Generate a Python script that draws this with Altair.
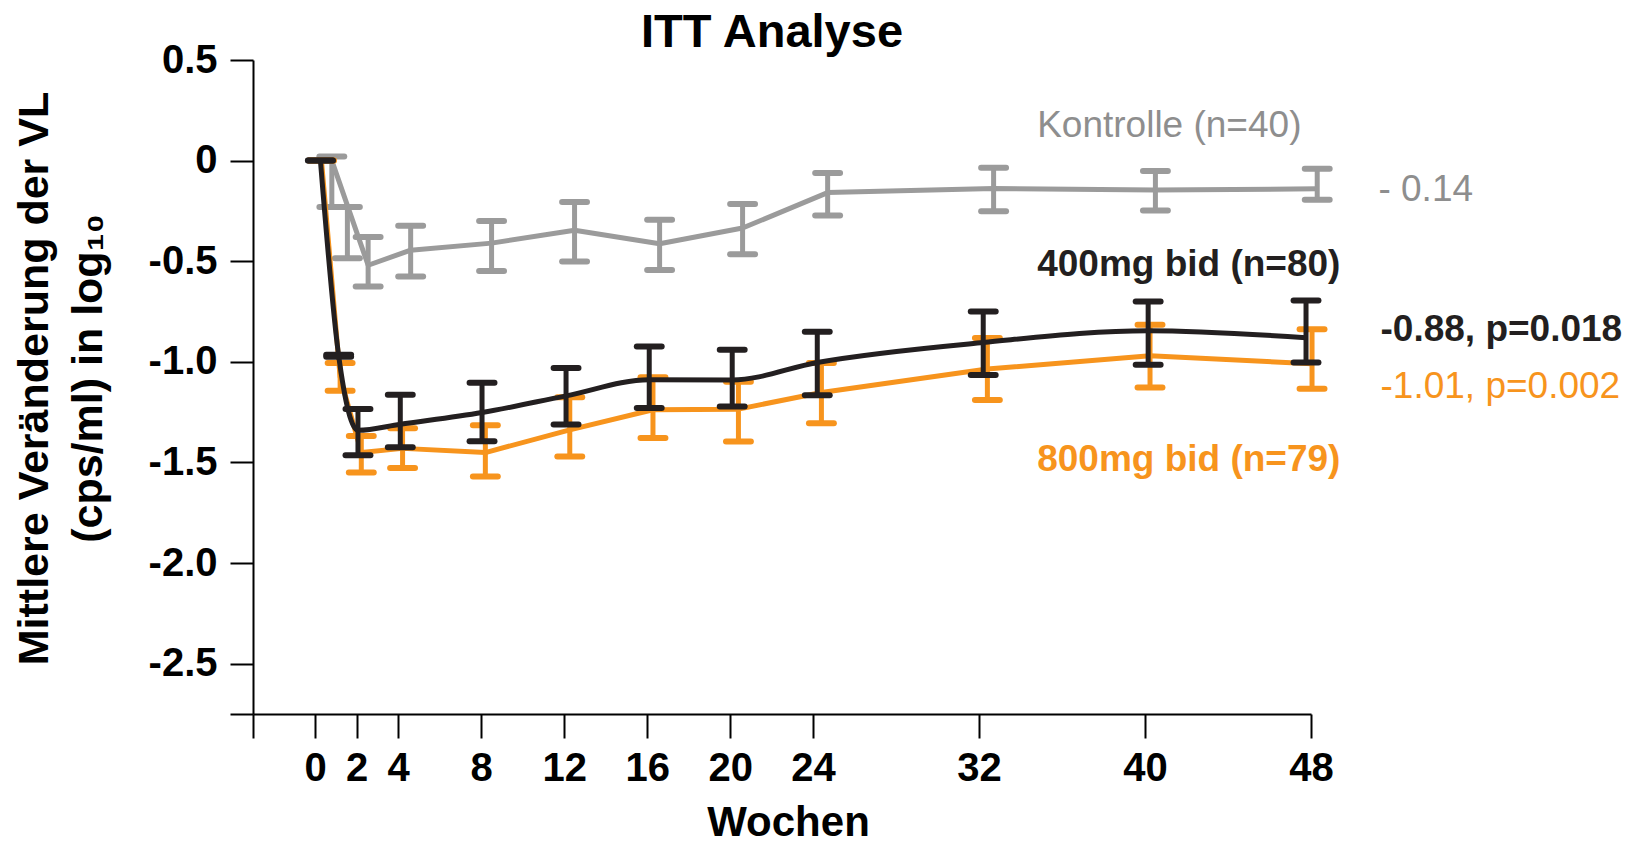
import altair as alt
import pandas as pd

FONT = "Liberation Sans, Arial, Helvetica, sans-serif"

GRAY = "#9b9b9b"
BLACK = "#231f20"
ORANGE = "#f7941d"

chart_title = ["ITT Analyse"]

# ---------------- Kontrolle (n=40) ----------------
ctrl_line_week = [0.8, 2.55, 4.6, 8.5, 12.5, 16.6, 20.6, 24.7, 32.7, 40.5, 48.3]
ctrl_line_val = [0.0, -0.52, -0.445, -0.41, -0.346, -0.413, -0.335, -0.159, -0.139, -0.146, -0.14]
ctrl_bar_week = [0.8, 1.55, 2.55, 4.6, 8.5, 12.5, 16.6, 20.6, 24.7, 32.7, 40.5, 48.3]
ctrl_bar_hi = [0.02, -0.23, -0.38, -0.324, -0.30, -0.206, -0.294, -0.216, -0.061, -0.035, -0.051, -0.041]
ctrl_bar_lo = [-0.23, -0.485, -0.626, -0.576, -0.548, -0.501, -0.543, -0.465, -0.273, -0.252, -0.248, -0.195]

# ---------------- 400mg bid (n=80) ----------------
d400_week = [0.25, 1.13, 2.06, 4.1, 8.04, 12.09, 16.1, 20.1, 24.2, 32.2, 40.15, 47.76]
d400_val = [0.0, -0.97, -1.34, -1.31, -1.252, -1.169, -1.089, -1.09, -1.003, -0.904, -0.845, -0.88]
d400_hi = [0.0, -0.965, -1.234, -1.164, -1.104, -1.030, -0.924, -0.940, -0.851, -0.750, -0.700, -0.695]
d400_lo = [0.0, -0.975, -1.464, -1.424, -1.394, -1.311, -1.229, -1.222, -1.166, -1.065, -1.015, -1.003]

# ---------------- 800mg bid (n=79) ----------------
d800_week = [0.3, 1.2, 2.22, 4.21, 8.2, 12.27, 16.28, 20.4, 24.4, 32.4, 40.24, 48.05]
d800_val = [0.0, -1.075, -1.45, -1.43, -1.451, -1.338, -1.238, -1.235, -1.152, -1.036, -0.970, -1.01]
d800_hi = [0.0, -1.006, -1.368, -1.33, -1.315, -1.176, -1.076, -1.099, -1.006, -0.882, -0.816, -0.838]
d800_lo = [0.0, -1.144, -1.55, -1.528, -1.570, -1.470, -1.378, -1.396, -1.305, -1.190, -1.128, -1.134]

# ---------------- text labels ----------------
label_text = ["Kontrolle (n=40)", "400mg bid (n=80)", "800mg bid (n=79)",
              "- 0.14", "-0.88, p=0.018", "-1.01, p=0.002"]
label_week = [34.8, 34.8, 34.8, 51.25, 51.35, 51.35]
label_val = [0.172, -0.518, -1.487, -0.146, -0.841, -1.123]
label_series = ["ctrl", "d400", "d800", "ctrl", "d400", "d800"]
label_bold = [False, True, True, False, True, False]

x_ticks = [-3, 0, 2, 4, 8, 12, 16, 20, 24, 32, 40, 48]
y_ticks = [0.5, 0, -0.5, -1.0, -1.5, -2.0, -2.5, -2.75]

CAP_HALF = 0.6  # half width of the error-bar caps, in weeks


def lines_df(series, weeks, vals):
    return pd.DataFrame({"series": series, "week": weeks, "val": vals})


def bars_df(series, weeks, hi, lo):
    return pd.DataFrame({"series": series, "week": weeks, "hi": hi, "lo": lo})


line_data = {
    "ctrl": lines_df("ctrl", ctrl_line_week, ctrl_line_val),
    "d800": lines_df("d800", d800_week, d800_val),
    "d400": lines_df("d400", d400_week, d400_val),
}
bar_data = {
    "ctrl": bars_df("ctrl", ctrl_bar_week, ctrl_bar_hi, ctrl_bar_lo),
    "d800": bars_df("d800", d800_week, d800_hi, d800_lo),
    "d400": bars_df("d400", d400_week, d400_hi, d400_lo),
}
colors = {"ctrl": GRAY, "d800": ORANGE, "d400": BLACK}
interp = {"ctrl": "linear", "d800": "linear", "d400": "monotone"}

x_scale = alt.Scale(domain=[-3, 48], nice=False, zero=False)
y_scale = alt.Scale(domain=[-2.75, 0.5], nice=False, zero=False)

x_axis = alt.Axis(
    values=x_ticks,
    labelExpr="datum.value < 0 ? '' : format(datum.value, 'd')",
    grid=False,
    domainColor="black", domainWidth=2,
    tickColor="black", tickWidth=2, tickSize=24,
    labelFont=FONT, labelFontSize=40, labelFontWeight="bold", labelColor="black",
    labelPadding=10, labelOverlap=False, labelFlush=False,
    title="Wochen", titleFont=FONT, titleFontSize=42, titleFontWeight="bold",
    titleColor="black", titleX=535, titleY=121, titleBaseline="alphabetic",
    titleAlign="center",
)
y_axis = alt.Axis(
    values=y_ticks,
    labelExpr=("datum.value == -2.75 ? '' : (datum.value == 0 ? '0' : "
               "(datum.value < 0 ? '-' : '') + format(abs(datum.value), '.1f'))"),
    grid=False,
    domainColor="black", domainWidth=2,
    tickColor="black", tickWidth=2, tickSize=23,
    labelFont=FONT, labelFontSize=40, labelFontWeight="bold", labelColor="black",
    labelPadding=13, labelOverlap=False, labelFlush=False,
    title=["Mittlere Veränderung der VL", "(cps/ml) in log₁₀"],
    titleFont=FONT, titleFontSize=43, titleFontWeight="bold", titleColor="black",
    titleLineHeight=54, titleAngle=-90, titleX=-219, titleY=318,
    titleAlign="center", titleBaseline="middle",
)

X = lambda f: alt.X(f, type="quantitative", scale=x_scale, axis=x_axis)
Y = lambda f: alt.Y(f, type="quantitative", scale=y_scale, axis=y_axis)

layers = []
for key in ["ctrl", "d800", "d400"]:
    col = colors[key]
    bars = bar_data[key]
    line = alt.Chart(line_data[key]).mark_line(
        color=col, strokeWidth=5, interpolate=interp[key], strokeJoin="round"
    ).encode(x=X("week"), y=Y("val"))
    stems = alt.Chart(bars).mark_rule(color=col, strokeWidth=5).encode(
        x=X("week"), y=Y("lo"), y2="hi"
    )
    caps_df = pd.concat([
        bars[["week"]].assign(cap=bars["hi"]),
        bars[["week"]].assign(cap=bars["lo"]),
    ], ignore_index=True)
    caps = alt.Chart(caps_df).transform_calculate(
        xa=f"datum.week - {CAP_HALF}", xb=f"datum.week + {CAP_HALF}"
    ).mark_rule(color=col, strokeWidth=6, strokeCap="round").encode(
        x=X("xa"), x2="xb", y=Y("cap")
    )
    layers += [line, stems, caps]

labels = pd.DataFrame({
    "week": label_week, "val": label_val, "text": label_text,
    "series": label_series, "bold": label_bold,
})
color_enc = alt.Color("series:N", scale=alt.Scale(domain=["ctrl", "d400", "d800"],
                                                  range=["#8e8e8e", BLACK, ORANGE]),
                      legend=None)
for bold in [True, False]:
    layers.append(
        alt.Chart(labels).transform_filter(f"datum.bold == {'true' if bold else 'false'}")
        .mark_text(align="left", baseline="middle", font=FONT, fontSize=37,
                   fontWeight="bold" if bold else "normal")
        .encode(x=X("week"), y=Y("val"), text="text:N", color=color_enc)
    )

# chart heading, drawn as a text mark just above the plot area
layers.append(
    alt.Chart(pd.DataFrame({"t": chart_title})).mark_text(
        align="center", baseline="alphabetic", font=FONT, fontSize=47,
        fontWeight="bold", color="black",
    ).encode(text="t:N", x=alt.value(519), y=alt.value(-13))
)

chart = alt.layer(*layers).properties(
    width=1058,
    height=654,
    autosize=alt.AutoSizeParams(type="none"),
    padding={"left": 253, "top": 60, "right": 323, "bottom": 131},
    background="white",
).configure_view(stroke=None)

chart.save("out.html", embed_options={"renderer": "svg", "actions": False})
